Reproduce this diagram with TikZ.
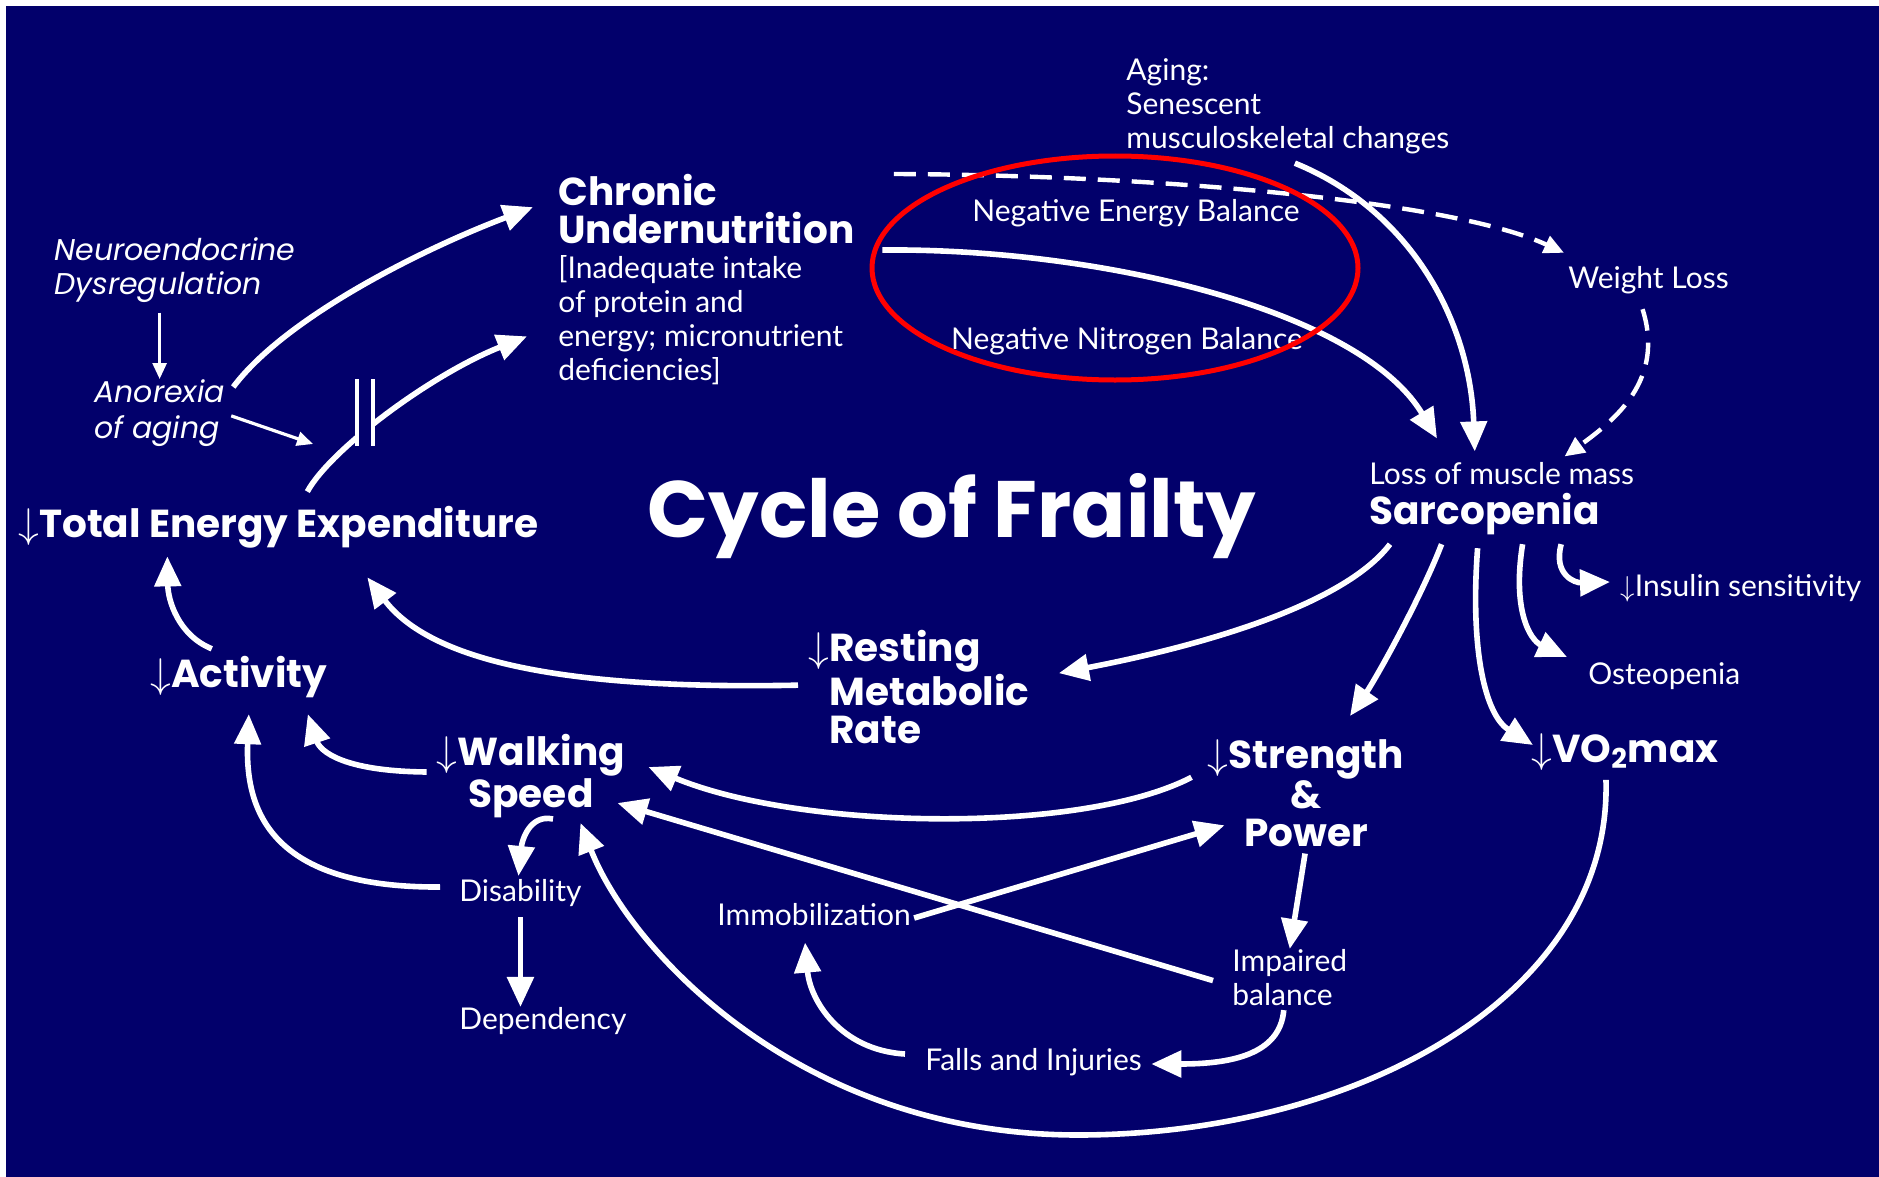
\documentclass[tikz,border=0pt]{standalone}
\usepackage{fontspec}
\setmainfont{Lato}
\newfontfamily\futura{Poppins}
\usetikzlibrary{arrows.meta}
\definecolor{navy}{RGB}{2,0,107}

\tikzset{
  lbl/.style={text=white, inner sep=0pt, align=left, font=\fontsize{15}{17}\selectfont},
  ital/.style={lbl, font=\futura\itshape\fontsize{15}{17}\selectfont},
  head/.style={lbl, font=\futura\bfseries\fontsize{19.5}{19}\selectfont},
  arr/.style={draw=white, line width=2.8pt, -{Triangle[length=15pt,width=13pt]}},
  thinarr/.style={draw=white, line width=1.4pt, -{Triangle[length=8pt,width=7pt]}},
  dasharr/.style={draw=white, line width=2.2pt, dash pattern=on 11pt off 6pt, -{Triangle[length=10pt,width=9pt]}},
}

\begin{document}
\begin{tikzpicture}[x=0.5pt,y=0.5pt,yscale=-1,xscale=1]
      \useasboundingbox (0,0) rectangle (1879,1177);
      \fill[white] (0,0) rectangle (1879,1177);
      \fill[navy] (6,6) rectangle (1879,1177);

      % labels
      \node[ital] (neuro) at (54,237) [anchor=north west] {Neuroendocrine\\Dysregulation};
      \node[ital, font=\futura\itshape\fontsize{15}{18}\selectfont] (anorexia) at (94,379) [anchor=north west] {Anorexia\\of aging};
      \node[head] (chronic) at (558,174) [anchor=north west] {Chronic\\Undernutrition};
      \node[lbl, font=\fontsize{15}{17.1}\selectfont] (intake) at (558,255) [anchor=north west] {[Inadequate intake\\of protein and\\energy; micronutrient\\deficiencies]};
      \node[lbl] (aging) at (1126,58) [anchor=north west] {Aging:\\Senescent\\musculoskeletal changes};
      \node[lbl] (neb) at (1136,213) {Negative Energy Balance};
      \node[lbl] (nnb) at (1127,341) {Negative Nitrogen Balance};
      \node[lbl] (weight) at (1568,280) [anchor=west] {Weight Loss};
      \node[lbl] (lossmm) at (1369,474) [anchor=west] {Loss of muscle mass};
      \node[head] (sarco) at (1369,514) [anchor=west] {Sarcopenia};
      \node[head, font=\futura\bfseries\fontsize{40}{40}\selectfont] (title) at (952,516) {Cycle of Frailty};
      \node[head] (tee) at (18,527) [anchor=west] {$\downarrow$Total Energy Expenditure};
      \node[head] (activity) at (150,677) [anchor=west] {$\downarrow$Activity};
      \node[head] (rmr) at (829,630) [anchor=north west] {\llap{$\downarrow$}Resting\\Metabolic\\Rate};
      \node[head, align=center] (walking) at (531,734) [anchor=north] {$\downarrow$Walking\\Speed};
      \node[head, align=center] (strength) at (1306,739) [anchor=north] {$\downarrow$Strength\\\&\\Power};
      \node[head] (vo2) at (1531,752) [anchor=west] {$\downarrow$VO\textsubscript{2}max};
      \node[lbl] (insulin) at (1620,588) [anchor=west] {$\downarrow$Insulin sensitivity};
      \node[lbl] (osteo) at (1588,676) [anchor=west] {Osteopenia};
      \node[lbl] (disability) at (459,893) [anchor=west] {Disability};
      \node[lbl] (dependency) at (459,1021) [anchor=west] {Dependency};
      \node[lbl] (immob) at (717,915) [anchor=west] {Immobilization};
      \node[lbl] (impaired) at (1232,949) [anchor=north west] {Impaired\\balance};
      \node[lbl] (falls) at (925,1062) [anchor=west] {Falls and Injuries};

      \coordinate (brk) at (365,412);
      \coordinate (cut) at (313,444);

      % left loop
      \draw[thinarr, shorten <=5pt] (anorexia.north |- neuro.south) -- (anorexia.north);
      \draw[arr] ([shift={(8,8)}]anorexia.north east) .. controls (285,318) and (420,250) .. ([shift={(-25,-2)}]chronic.west);
      \draw[thinarr, line width=1.6pt] ([shift={(6,3)}]anorexia.east) -- (cut);
      \draw[arr] ([shift={(29,-14)}]tee.north) .. controls (330,450) and (430,375) .. ([shift={(-31,16)}]intake.west);
      \fill[navy] ([shift={(-6,-30)}]brk) rectangle ([shift={(6,32)}]brk);
      \draw[white, line width=2pt] ([shift={(-8,-33)}]brk) -- ([shift={(-8,34)}]brk)
            ([shift={(8,-33)}]brk) -- ([shift={(8,34)}]brk);
      \draw[arr] ([shift={(-27,-7)}]activity.north) .. controls (178,635) and (168,600) .. ([shift={(-111,8)}]tee.south);
      \draw[arr] ([shift={(-10,-4)}]walking.west) .. controls (330,771) and (318,745) .. ([shift={(69,16)}]activity.south);
      \draw[arr] ([shift={(-19,-6)}]disability.west) .. controls (270,888) and (245,810) .. ([shift={(10,16)}]activity.south);
      \draw[arr] ([shift={(22,1)}]walking.south) .. controls (530,814) and (522,840) .. ([shift={(-2,-3)}]disability.north);
      \draw[arr, shorten <=5pt] (disability.south) -- (disability.south |- dependency.north);
      \draw[arr] ([shift={(-31,-2)}]rmr.west) .. controls (560,690) and (430,660) .. ([shift={(89,29)}]tee.south);

      % from sarcopenia
      \draw[arr] ([shift={(21,9)}]sarco.south west) .. controls (1340,610) and (1180,650) .. ([shift={(29,-14)}]rmr.east);
      \draw[arr] ([shift={(-43,9)}]sarco.south) .. controls (1420,600) and (1375,680) .. ([shift={(44,-23)}]strength.north);
      \draw[arr] ([shift={(-7,13)}]sarco.south) .. controls (1470,650) and (1485,715) .. ([shift={(2,-7)}]vo2.west);
      \draw[arr] ([shift={(38,9)}]sarco.south) .. controls (1512,610) and (1530,640) .. ([shift={(-21,-19)}]osteo.west);
      \draw[arr] ([shift={(-39,9)}]sarco.south east) .. controls (1553,575) and (1575,583) .. ([shift={(-10,-6)}]insulin.west);

      % lower part
      \draw[arr] ([shift={(-16,-16)}]strength.west) .. controls (1080,835) and (800,830) .. ([shift={(23,-9)}]walking.east);
      \draw[arr] ([shift={(-19,3)}]impaired.west) -- ([shift={(-8,-15)}]walking.south east);
      \draw[arr] ([shift={(3,3)}]immob.east) -- ([shift={(17,32)}]strength.west);
      \draw[arr, shorten <=3pt] (strength.south) -- (impaired.north);
      \draw[arr] ([shift={(-6,4)}]impaired.south) .. controls (1280,1055) and (1230,1064) .. ([shift={(9,2)}]falls.east);
      \draw[arr] ([shift={(-20,-8)}]falls.west) .. controls (840,1050) and (810,1000) .. ([shift={(-9,16)}]immob.south);
      \draw[arr] ([shift={(-19,9)}]vo2.south) .. controls (1612,1000) and (1350,1135) .. (1078,1135)
            .. controls (800,1135) and (630,950) .. ([shift={(-45,5)}]walking.south east);

      % top part
      \draw[arr] ([shift={(39,-5)}]intake.north east) .. controls (1100,248) and (1360,310) .. ([shift={(68,-24)}]lossmm.north west);
      \draw[arr] ([shift={(7,9)}]aging.south) .. controls (1410,210) and (1470,320) .. ([shift={(-27,-11)}]lossmm.north);
      \draw[dasharr] ([shift={(39,0)}]chronic.north east) .. controls (1150,175) and (1450,200) .. ([shift={(-4,-13)}]weight.north west);
      \draw[dasharr] ([shift={(-6,15)}]weight.south) .. controls (1665,380) and (1615,420) .. ([shift={(-70,-6)}]lossmm.north east);

      \draw[red, line width=2.5pt] (1115,268) ellipse [x radius=243, y radius=112];
    \end{tikzpicture}
\end{document}
